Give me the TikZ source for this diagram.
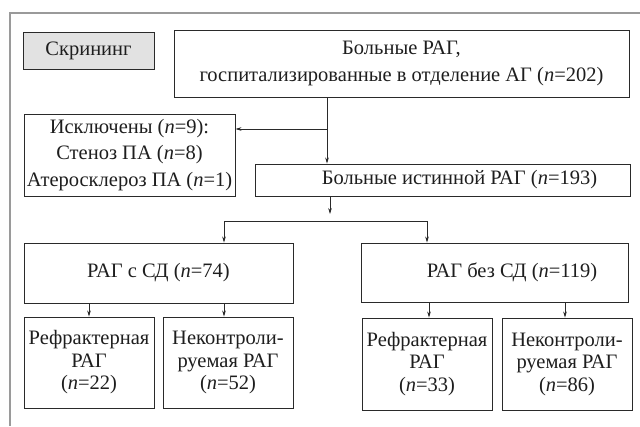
\documentclass[tikz,border=0pt]{standalone}
\usepackage{fontspec}
\setmainfont{Liberation Serif}
\usetikzlibrary{arrows.meta}
\definecolor{framegray}{HTML}{9A9A9A}
\definecolor{boxline}{HTML}{2A2A2A}
\definecolor{scrfill}{HTML}{E2E2E2}
\definecolor{txt}{HTML}{1E1E1E}
\begin{document}
\begin{tikzpicture}[x=1pt,y=-1pt,
  box/.style={draw=boxline, line width=0.9pt, rectangle, inner sep=0pt,
    align=center, text=txt},
  bigtxt/.style={font=\fontsize{20.5}{26.5}\selectfont},
  smalltxt/.style={font=\fontsize{20.5}{22.5}\selectfont},
  arr/.style={draw=boxline, line width=0.7pt, -{Stealth[length=6pt,width=3.6pt]}},
  arrboth/.style={draw=boxline, line width=0.7pt, {Stealth[length=6pt,width=3.6pt]}-{Stealth[length=6pt,width=3.6pt]}},
  frameline/.style={draw=framegray, line width=2pt}]
\useasboundingbox (0,0) rectangle (640,426);
% outer frame
\coordinate (fTop) at (9,13);
\coordinate (fRight) at (640,13);
\coordinate (fBottom) at (10,426);
\draw[frameline] (fRight) -- (10,13) -- (fBottom);
% boxes
\node[box, bigtxt, fill=scrfill, minimum width=131pt, minimum height=37pt] (scr) at (88.5,50.5) {Скрининг};
\node[box, bigtxt, minimum width=455pt, minimum height=67pt] (top) at (401.5,63.5)
  {Больные РАГ,\\госпитализированные в отделение АГ (\textit{n}=202)};
\node[box, bigtxt, minimum width=211pt, minimum height=82pt] (excl) at (129.5,155)
  {Исключены (\textit{n}=9):\\Стеноз ПА (\textit{n}=8)\\Атеросклероз ПА (\textit{n}=1)};
\node[box, bigtxt, minimum width=375pt, minimum height=32pt] (mid) at (442.5,180)
  {\hspace*{34pt}Больные истинной РАГ (\textit{n}=193)};
\node[box, bigtxt, minimum width=269pt, minimum height=60pt] (sd) at (158.5,273)
  {РАГ с СД (\textit{n}=74)};
\node[box, bigtxt, minimum width=267pt, minimum height=59pt] (nosd) at (494.5,272.5)
  {\hspace*{35pt}РАГ без СД (\textit{n}=119)};
\node[box, smalltxt, minimum width=130pt, minimum height=91pt] (r1) at (89,362.5)
  {Рефрактерная\\РАГ\\(\textit{n}=22)};
\node[box, smalltxt, minimum width=130pt, minimum height=91pt] (u1) at (228,362.5)
  {Неконтроли-\\руемая РАГ\\(\textit{n}=52)};
\node[box, smalltxt, minimum width=130pt, minimum height=92pt] (r2) at (427,364)
  {Рефрактерная\\РАГ\\(\textit{n}=33)};
\node[box, smalltxt, minimum width=130pt, minimum height=92pt] (u2) at (567,364)
  {Неконтроли-\\руемая РАГ\\(\textit{n}=86)};
% connectors
\coordinate (j1) at (327,129);
\draw[arr] (top.south -| j1) -- (mid.north -| j1);
\draw[arr] (j1) -- (excl.east |- j1);
\coordinate (j2) at (330,214);
\draw[arr] (mid.south -| j2) -- (j2);
\coordinate (bl) at (224,221);
\coordinate (br) at (427,221);
\draw[arrboth] (sd.north -| bl) -- (bl) -- (br) -- (nosd.north -| br);
\draw[arr] (sd.south -| r1.north) -- (r1.north);
\draw[arr] (sd.south -| bl) -- (u1.north -| bl);
\draw[arr] (nosd.south -| 429,0) -- (r2.north -| 429,0);
\draw[arr] (nosd.south -| 565,0) -- (u2.north -| 565,0);
\end{tikzpicture}
\end{document}
